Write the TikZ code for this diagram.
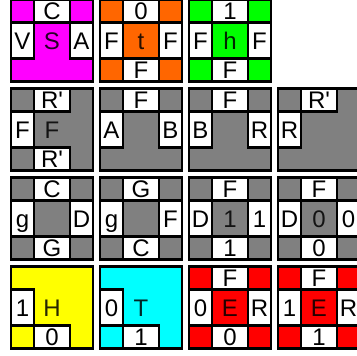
\documentclass[tikz,border=0pt]{standalone}
\usepackage{fontspec}
\setmainfont{Liberation Sans}
\usepackage{tikz}
\usetikzlibrary{positioning}

\definecolor{tilemagenta}{RGB}{255,0,255}
\definecolor{tileorange}{RGB}{255,102,0}
\definecolor{tilegreen}{RGB}{0,255,0}
\definecolor{tilegray}{RGB}{128,128,128}
\definecolor{tileyellow}{RGB}{255,255,0}
\definecolor{tilecyan}{RGB}{0,255,255}
\definecolor{tilered}{RGB}{255,0,0}

\tikzset{
    tileborder/.style={line width=2.4pt},
    cellbox/.style={fill=white, draw=black, line width=2.4pt},
    tilelabel/.style={inner sep=0pt, text height=17pt, text depth=0pt,
        font=\fontsize{24}{24}\selectfont},
}

% #1 column, #2 row, #3 colour, #4 top, #5 left, #6 right, #7 bottom, #8 centre
\newcommand{\wangtile}[8]{%
    \begin{scope}[shift={({11+89*#1},{-0.5+89*#2})}]
        \fill[#3] (0, 0) rectangle (82, 82);
        \if\relax\detokenize{#4}\relax\else
            \draw[cellbox] (23, 0) rectangle (59, 23);
            \node[tilelabel] (r#2c#1top) at (41, 11.5) {#4};
        \fi
        \if\relax\detokenize{#5}\relax\else
            \draw[cellbox] (0, 23) rectangle (23, 59);
            \node[tilelabel] (r#2c#1left) at (11.5, 41) {#5};
        \fi
        \if\relax\detokenize{#6}\relax\else
            \draw[cellbox] (59, 23) rectangle (82, 59);
            \node[tilelabel] (r#2c#1right) at (70.5, 41) {#6};
        \fi
        \if\relax\detokenize{#7}\relax\else
            \draw[cellbox] (23, 59) rectangle (59, 82);
            \node[tilelabel] (r#2c#1bottom) at (41, 70.5) {#7};
        \fi
        \node[tilelabel, text=black!85!#3] (r#2c#1centre) at (41, 41) {#8};
        \draw[tileborder] (0, 0) rectangle (82, 82);
    \end{scope}}

\begin{document}
\begin{tikzpicture}[x=1pt, y=-1pt]
    \useasboundingbox (0, 0) rectangle (357, 356);
    \clip (0, 0) rectangle (357, 356);

    % Row 1
    \wangtile{0}{0}{tilemagenta}{C}{V}{A}{}{S}
    \wangtile{1}{0}{tileorange}{0}{F}{F}{F}{t}
    \wangtile{2}{0}{tilegreen}{1}{F}{F}{F}{h}

    % Row 2
    \wangtile{0}{1}{tilegray}{R\textquotesingle}{F}{}{R\textquotesingle}{F}
    \wangtile{1}{1}{tilegray}{F}{A}{B}{}{}
    \wangtile{2}{1}{tilegray}{F}{B}{R}{}{}
    \wangtile{3}{1}{tilegray}{R\textquotesingle}{R}{}{}{}

    % Row 3
    \wangtile{0}{2}{tilegray}{C}{g}{D}{G}{}
    \wangtile{1}{2}{tilegray}{G}{g}{F}{C}{}
    \wangtile{2}{2}{tilegray}{F}{D}{1}{1}{1}
    \wangtile{3}{2}{tilegray}{F}{D}{0}{0}{0}

    % Row 4
    \wangtile{0}{3}{tileyellow}{}{1}{}{0}{H}
    \wangtile{1}{3}{tilecyan}{}{0}{}{1}{T}
    \wangtile{2}{3}{tilered}{F}{0}{R}{0}{E}
    \wangtile{3}{3}{tilered}{F}{1}{R}{1}{E}
\end{tikzpicture}
\end{document}
